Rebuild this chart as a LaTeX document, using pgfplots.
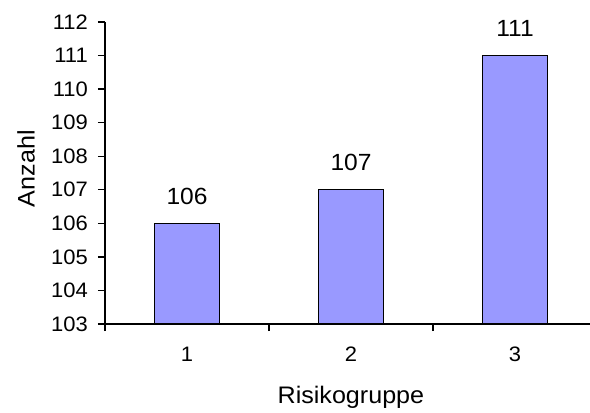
\documentclass[border=0pt]{standalone}
\usepackage{fontspec}
\setmainfont{Liberation Sans}[FakeStretch=1.05]
\usepackage{pgfplots}
\pgfplotsset{compat=1.18}
\definecolor{barblue}{HTML}{9999FF}
\newcommand\ticksize{\fontsize{21}{23}\selectfont}
\begin{document}
\begin{tikzpicture}
\begin{axis}[
  at={(0,0)}, anchor=south west,
  scale only axis,
  width=485bp, height=302bp,
  xmin=0.5, xmax=3.457,
  ymin=103, ymax=112,
  axis x line*=bottom, axis y line*=left,
  axis line style={-, line width=1.5bp, black},
  ytick={103,...,112},
  xtick={1,2,3},
  minor xtick={0.5,1.5,2.5},
  major tick length=7bp,
  minor tick length=7bp,
  tick align=outside,
  tick style={line width=1.3bp, black},
  major x tick style={draw=none},
  /pgf/number format/assume math mode=true,
  yticklabel={\ticksize\pgfmathprintnumber{\tick}},
  xticklabel={\ticksize\pgfmathprintnumber{\tick}},
  yticklabel style={anchor=east, inner sep=0pt, xshift=-10bp},
  xticklabel style={anchor=north, inner sep=0pt, yshift=-16bp},
  xlabel={Risikogruppe},
  ylabel={Anzahl},
  xlabel style={font=\fontsize{24}{26}\selectfont, at={(axis description cs:0.507,-0.2417)}, anchor=center},
  ylabel style={font=\fontsize{24}{26}\selectfont, at={(axis description cs:-0.1629,0.514)}, anchor=center},
  clip=false,
]
\addplot[ybar, bar width=0.4, fill=barblue, draw=black, line width=1.2bp,
  nodes near coords,
  every node near coord/.append style={font=\fontsize{23.5}{25}\selectfont, anchor=south, inner sep=0pt, yshift=18bp}]
  coordinates {(1,106) (2,107) (3,111)};
\end{axis}
\pgfresetboundingbox
\path[use as bounding box] (-105bp,-89bp) rectangle (485bp,324bp);
\end{tikzpicture}
\end{document}
